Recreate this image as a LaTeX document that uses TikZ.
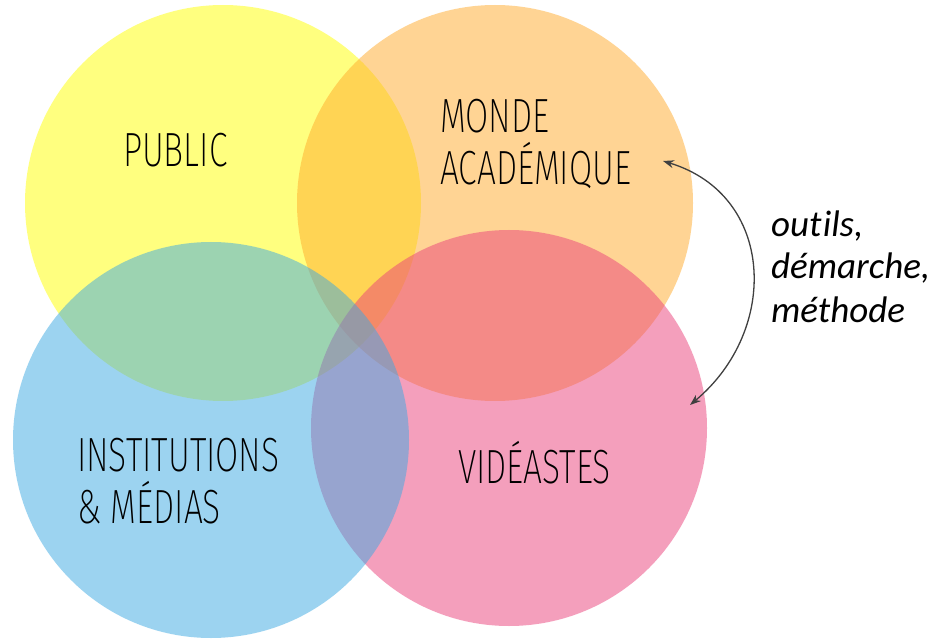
\documentclass[tikz,border=0pt]{standalone}
\usepackage{fontspec}
\usetikzlibrary{arrows.meta}
\IfFontExistsTF{Fira Sans ExtraLight}{%
  \newfontfamily\labelfont{Fira Sans ExtraLight}[FakeStretch=0.70]}{%
  \IfFontExistsTF{Fira Sans Light}{%
    \newfontfamily\labelfont{Fira Sans Light}[FakeStretch=0.70]}{%
    \newfontfamily\labelfont{Fira Sans}[FakeStretch=0.70]}}
\newfontfamily\notefont{Carlito}[Ligatures={NoCommon,NoContextual}]
\definecolor{cyellow}{RGB}{255,255,0}
\definecolor{corange}{RGB}{255,170,43}
\definecolor{cpink}{RGB}{235,65,123}
\definecolor{cblue}{RGB}{59,169,227}
\definecolor{arrowgray}{RGB}{64,64,64}
\begin{document}
\begin{tikzpicture}[x=1pt,y=-1pt,
  setcircle/.style={circle,inner sep=0pt,minimum size=396pt,fill opacity=0.5},
  biglabel/.style={anchor=base west,inner sep=0pt,font=\labelfont\fontsize{48}{48}\selectfont,text=black},
  notelabel/.style={anchor=base west,inner sep=0pt,font=\notefont\itshape\fontsize{37}{37}\selectfont,text=black},
  linkarrow/.style={draw=arrowgray,line width=1.3pt,{Stealth[length=11pt,width=8pt]}-{Stealth[length=11pt,width=8pt]}}]
\useasboundingbox (0,0) rectangle (932,639);
\fill[white] (0,0) rectangle (932,639);
\node[setcircle,fill=cyellow] (public) at (223,203) {};
\node[setcircle,fill=corange] (monde) at (495,203) {};
\node[setcircle,fill=cpink] (videastes) at (509,428) {};
\node[setcircle,fill=cblue] (institutions) at (211,440) {};
\node[biglabel] (t1) at (123,167) {PUBLIC};
\node[biglabel] (t2) at (440,133) {MONDE};
\node[biglabel] (t3) at (440,185) {ACADÉMIQUE};
\node[biglabel] (t4) at (77,471) {INSTITUTIONS};
\node[biglabel] (t5) at (77,523) {\& MÉDIAS};
\node[biglabel] (t6) at (458,483) {VIDÉASTES};
\node[notelabel] (n1) at (771,237) {out\kern1.2pt ils,};
\node[notelabel] (n2) at (771,279) {démarche,};
\node[notelabel] (n3) at (771,322) {méthode};
\coordinate (a1) at (663,161);
\coordinate (a2) at (690,405);
\draw[linkarrow] (a1) .. controls (775,195) and (780,330) .. (a2);
\end{tikzpicture}
\end{document}
